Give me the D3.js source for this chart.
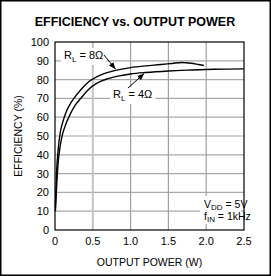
<!DOCTYPE html>
<html>
<head>
<meta charset="utf-8">
<script src="https://cdn.jsdelivr.net/npm/d3@7"></script>
<style>
  body { margin: 0; background: #fff; }
  text { font-family: "Liberation Sans", Arial, sans-serif; }
</style>
</head>
<body>
<div id="chart"></div>
<script>
// Chart data
var xTicks = [0, 0.5, 1.0, 1.5, 2.0, 2.5];
var yTicks = [0, 10, 20, 30, 40, 50, 60, 70, 80, 90, 100];

// RL = 8 ohm : [output power W, efficiency %]
var rl8 = [[0.005, 12], [0.02, 30], [0.04, 42], [0.07, 52], [0.1, 57], [0.15, 63],
  [0.2, 67], [0.26, 70.5], [0.35, 75], [0.45, 79], [0.55, 81.5], [0.7, 83.8],
  [0.85, 85.3], [1.0, 86.4], [1.2, 87.3], [1.4, 88], [1.55, 88.6], [1.68, 89.1],
  [1.8, 88.7], [1.9, 88], [1.97, 87.5]];

// RL = 4 ohm
var rl4 = [[0.005, 10], [0.02, 22], [0.04, 35], [0.07, 45], [0.1, 51], [0.15, 57],
  [0.2, 61.5], [0.27, 66.5], [0.35, 70.5], [0.45, 75], [0.55, 78], [0.7, 80.5],
  [0.85, 82], [1.0, 83], [1.2, 83.8], [1.5, 84.6], [1.8, 85.1], [2.1, 85.5], [2.5, 85.7]];

var width = 271, height = 276;
var margin = {top: 42, right: 27, bottom: 46, left: 55};

var svg = d3.select('#chart').append('svg')
  .attr('width', width)
  .attr('height', height);

// outer frame
svg.append('rect')
  .attr('x', 0.75).attr('y', 0.75)
  .attr('width', width - 1.5).attr('height', height - 1.5)
  .attr('fill', 'none').attr('stroke', '#000').attr('stroke-width', 1.5);

// title
svg.append('text')
  .attr('x', 135).attr('y', 26)
  .attr('text-anchor', 'middle')
  .style('font-size', '12.5px').style('font-weight', 'bold')
  .text('EFFICIENCY vs. OUTPUT POWER');

var x = d3.scaleLinear().domain([0, 2.5]).range([margin.left, width - margin.right]);
var y = d3.scaleLinear().domain([0, 100]).range([height - margin.bottom, margin.top]);

var g = svg.append('g');

// grid
g.selectAll('.hgrid')
  .data(yTicks.slice(1, -1))
  .enter().append('line')
  .attr('class', 'hgrid')
  .attr('x1', x(0)).attr('x2', x(2.5))
  .attr('y1', function(d) { return y(d); })
  .attr('y2', function(d) { return y(d); })
  .attr('stroke', '#a8a8a8').attr('stroke-width', 1.2);

g.selectAll('.vgrid')
  .data(xTicks.slice(1, -1))
  .enter().append('line')
  .attr('class', 'vgrid')
  .attr('y1', y(0)).attr('y2', y(100))
  .attr('x1', function(d) { return x(d); })
  .attr('x2', function(d) { return x(d); })
  .attr('stroke', function(d, i) { return i === 0 ? '#c4c4c4' : '#a0a0a0'; })
  .attr('stroke-width', function(d, i) { return i === 0 ? 2 : 1.2; });

// plot frame
g.append('rect')
  .attr('x', x(0)).attr('y', y(100))
  .attr('width', x(2.5) - x(0)).attr('height', y(0) - y(100))
  .attr('fill', 'none').attr('stroke', '#000').attr('stroke-width', 1.2);

// tick labels
g.selectAll('.ylab')
  .data(yTicks)
  .enter().append('text')
  .attr('x', x(0) - 6)
  .attr('y', function(d) { return y(d) + 4; })
  .attr('text-anchor', 'end')
  .style('font-size', '11px')
  .text(function(d) { return d; });

g.selectAll('.xlab')
  .data(xTicks)
  .enter().append('text')
  .attr('x', function(d) { return x(d); })
  .attr('y', y(0) + 15)
  .attr('text-anchor', 'middle')
  .style('font-size', '11px')
  .text(function(d) { return d === 0 ? '0' : d.toFixed(1); });

// axis titles
svg.append('text')
  .attr('x', (x(0) + x(2.5)) / 2).attr('y', 266)
  .attr('text-anchor', 'middle')
  .style('font-size', '10.5px')
  .text('OUTPUT POWER (W)');

svg.append('text')
  .attr('transform', 'translate(22,' + ((y(0) + y(100)) / 2) + ') rotate(-90)')
  .attr('text-anchor', 'middle')
  .style('font-size', '10.5px')
  .text('EFFICIENCY (%)');

// curves
var line = d3.line()
  .x(function(d) { return x(d[0]); })
  .y(function(d) { return y(d[1]); })
  .curve(d3.curveMonotoneX);

[rl8, rl4].forEach(function(s) {
  g.append('path')
    .datum(s)
    .attr('d', line)
    .attr('fill', 'none')
    .attr('stroke', '#000')
    .attr('stroke-width', 1.4);
});

// arrow marker
svg.append('defs').append('marker')
  .attr('id', 'arr')
  .attr('viewBox', '0 0 10 10')
  .attr('refX', 10).attr('refY', 5)
  .attr('markerWidth', 7).attr('markerHeight', 7)
  .attr('markerUnits', 'userSpaceOnUse')
  .attr('orient', 'auto')
  .append('path').attr('d', 'M0,1 L10,5 L0,9 Z').attr('fill', '#000');

// label helper with white background
function label(px, py, main, sub, rest) {
  var t = svg.append('text')
    .attr('x', px).attr('y', py)
    .style('font-size', '11px');
  t.append('tspan').text(main);
  t.append('tspan').attr('dy', 3).style('font-size', '8px').text(sub);
  t.append('tspan').attr('dy', -3).text(rest);
  var b = t.node().getBBox();
  svg.insert('rect', function() { return t.node(); })
    .attr('x', b.x - 3).attr('y', b.y - 1)
    .attr('width', b.width + 6).attr('height', b.height + 2)
    .attr('fill', '#fff');
}

label(64, 59, 'R', 'L', ' = 8\u03a9');
svg.append('line')
  .attr('x1', 104).attr('y1', 55)
  .attr('x2', x(0.8)).attr('y2', y(85) - 1)
  .attr('stroke', '#000').attr('stroke-width', 1)
  .attr('marker-end', 'url(#arr)');

label(113, 98, 'R', 'L', ' = 4\u03a9');
svg.append('line')
  .attr('x1', 128).attr('y1', 88)
  .attr('x2', x(1.18)).attr('y2', y(83.8) + 1)
  .attr('stroke', '#000').attr('stroke-width', 1)
  .attr('marker-end', 'url(#arr)');

// conditions box
svg.append('rect')
  .attr('x', 200).attr('y', 196).attr('width', 41).attr('height', 28)
  .attr('fill', '#fff');
var c1 = svg.append('text').attr('x', 204).attr('y', 208).style('font-size', '10.5px');
c1.append('tspan').text('V');
c1.append('tspan').attr('dy', 1.5).style('font-size', '8px').text('DD');
c1.append('tspan').attr('dy', -1.5).text(' = 5V');
var c2 = svg.append('text').attr('x', 204).attr('y', 220).style('font-size', '10.5px');
c2.append('tspan').text('f');
c2.append('tspan').attr('dy', 1.5).style('font-size', '8px').text('IN');
c2.append('tspan').attr('dy', -1.5).text(' = 1kHz');
</script>
</body>
</html>
